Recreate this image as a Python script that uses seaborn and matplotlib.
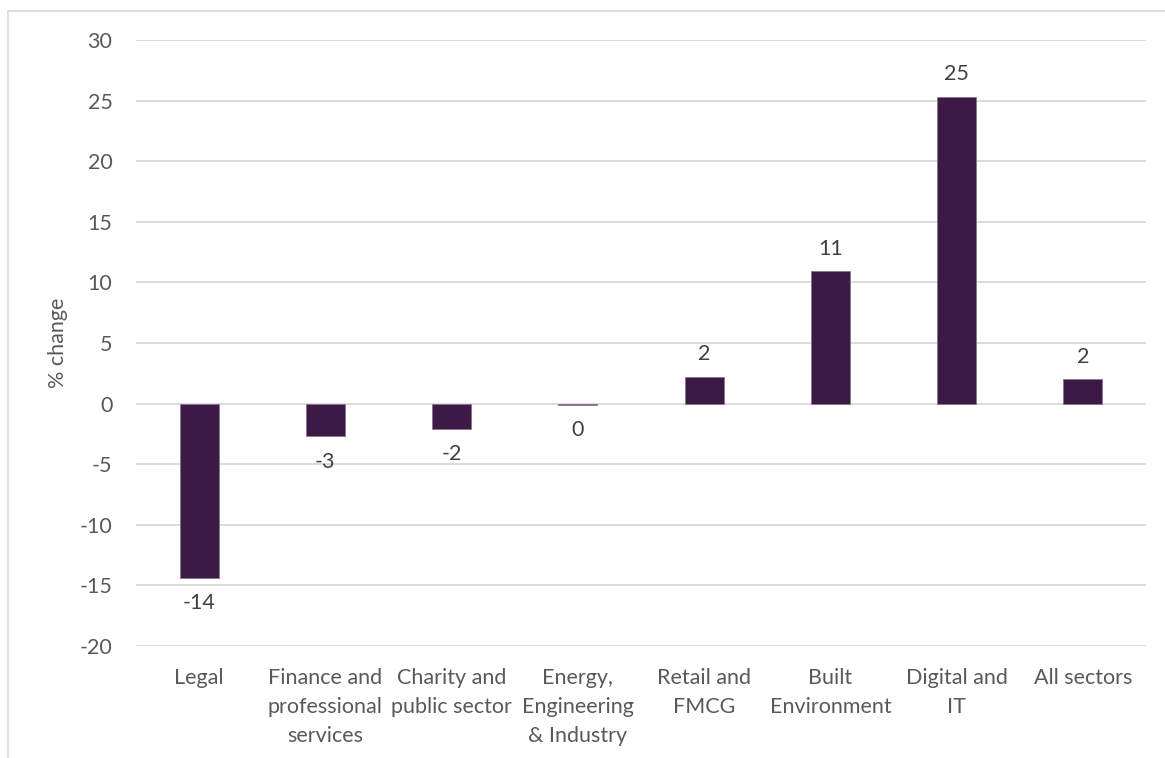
import matplotlib
matplotlib.use("Agg")
import matplotlib.pyplot as plt
from matplotlib.lines import Line2D
import seaborn as sns
import pandas as pd

categories = ["Legal", "Finance and\nprofessional\nservices", "Charity and\npublic sector",
              "Energy,\nEngineering\n& Industry", "Retail and\nFMCG", "Built\nEnvironment",
              "Digital and\nIT", "All sectors"]
values = [-14.4, -2.7, -2.1, -0.1, 2.2, 10.9, 25.3, 2.0]
yticks = [-20, -15, -10, -5, 0, 5, 10, 15, 20, 25, 30]

sns.set_theme(style="white")
plt.rcParams['font.family'] = ['Lato', 'DejaVu Sans']

FS = 15.5
W, H = 1165, 758
fig = plt.figure(figsize=(W / 100, H / 100), dpi=100)
ax = fig.add_axes([136 / W, 1 - 646 / H, (1146 - 136) / W, (646 - 40) / H])

df = pd.DataFrame({"cat": categories, "val": values})
sns.barplot(data=df, x="cat", y="val", ax=ax, color="#3d1a45", width=0.31,
            edgecolor="#8a7390", linewidth=0.6, saturation=1, zorder=3)

ax.set_ylim(-20, 30)
ax.set_xlim(-0.5, len(categories) - 0.5)
ax.set_yticks(yticks)
ax.set_yticklabels([str(t) for t in yticks])
ax.yaxis.grid(True, color="#d9d9d9", linewidth=1.3, zorder=0)
ax.xaxis.grid(False)
for s in ax.spines.values():
    s.set_visible(False)
ax.tick_params(axis="y", length=0, pad=17, labelsize=FS, labelcolor="#595959")
ax.tick_params(axis="x", length=0, pad=16, labelsize=FS, labelcolor="#595959")
for lbl in ax.get_xticklabels():
    lbl.set_linespacing(1.55)
    lbl.set_verticalalignment("top")
ax.set_xlabel("")
ax.set_ylabel("% change", fontsize=FS, color="#595959", labelpad=8)

for i, v in enumerate(values):
    txt = f"{int(round(v))}"
    if v >= 0:
        ax.annotate(txt, (i, v), xytext=(0, 9), textcoords="offset points",
                    ha="center", va="bottom", fontsize=FS, color="#404040")
    else:
        ax.annotate(txt, (i, v), xytext=(0, -11), textcoords="offset points",
                    ha="center", va="top", fontsize=FS, color="#404040")

fig.add_artist(Line2D([8 / W, 1], [1 - 11 / H, 1 - 11 / H], color="#d9d9d9", linewidth=1.2,
                      transform=fig.transFigure))
fig.add_artist(Line2D([8 / W, 8 / W], [0, 1 - 11 / H], color="#d9d9d9", linewidth=1.2,
                      transform=fig.transFigure))

fig.savefig("out.png", dpi=100, facecolor="white")
